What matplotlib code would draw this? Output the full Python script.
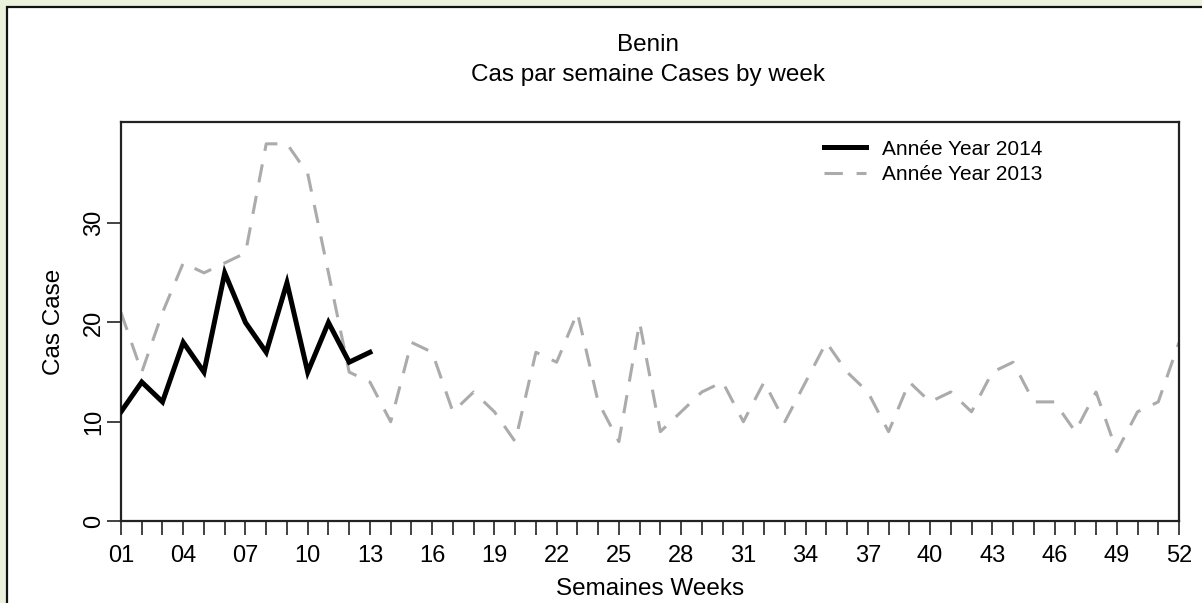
import matplotlib
matplotlib.use("Agg")
import matplotlib.pyplot as plt
from matplotlib.patches import Rectangle

plt.rcParams['font.family'] = ['Liberation Sans', 'DejaVu Sans']

weeks_2014 = list(range(1, 14))
cases_2014 = [11, 14, 12, 18, 15, 25, 20, 17, 24, 15, 20, 16, 17]

weeks_2013 = list(range(1, 53))
cases_2013 = [21, 15, 21, 26, 25, 26, 27, 38, 38, 35,
              25, 15, 14, 10, 18, 17, 11, 13, 11, 8,
              17, 16, 21, 12, 8, 20, 9, 11, 13, 14,
              10, 14, 10, 14, 18, 15, 13, 9, 14, 12,
              13, 11, 15, 16, 12, 12, 9, 13, 7, 11,
              12, 18]

xtick_pos = list(range(1, 53, 3))
ytick_pos = [0, 10, 20, 30]

fig = plt.figure(figsize=(12.02, 6.03), dpi=100)
fig.patch.set_facecolor('#EAF1DD')
fig.patches.append(Rectangle((7 / 1202, -0.05), 1.1, 1 - 7 / 603 + 0.05,
                             transform=fig.transFigure, facecolor='white',
                             edgecolor='#111111', linewidth=1.6, zorder=-5))

ax = fig.add_axes([121 / 1202, 1 - 521 / 603, (1179 - 121) / 1202, (521 - 122) / 603])
ax.set_zorder(2)
ax.set_facecolor('white')

ax.plot(weeks_2013, cases_2013, color='#ABABAB', linewidth=2.2,
        dashes=(6, 4.5), label=u'Ann\u00e9e Year 2013', zorder=2)
ax.plot(weeks_2014, cases_2014, color='black', linewidth=3.6,
        solid_joinstyle='miter', label=u'Ann\u00e9e Year 2014', zorder=3)

ax.set_xlim(1, 52)
ax.set_ylim(0, 40.2)
ax.set_xticks(range(1, 53))
ax.set_xticklabels([("%02d" % w) if w in xtick_pos else "" for w in range(1, 53)])
ax.set_yticks(ytick_pos)
ax.set_yticklabels([str(v) for v in ytick_pos], rotation=90, va='center')
ax.tick_params(axis='both', direction='out', length=10, width=1.2,
               color='#222222', labelsize=17)
ax.tick_params(axis='x', pad=7.5)
ax.tick_params(axis='y', pad=1.5)
for s in ax.spines.values():
    s.set_linewidth(1.6)
    s.set_color('#222222')

ax.set_xlabel('Semaines Weeks', fontsize=17.5, va='center')
ax.xaxis.set_label_coords(0.5, (521 - 589) / 399)
ax.set_ylabel('Cas Case', fontsize=17.5, va='center')
ax.yaxis.set_label_coords((54 - 121) / 1058, 0.5)

fig.text(648 / 1202, 1 - 45 / 603, 'Benin', ha='center', va='center', fontsize=17.5)
fig.text(648 / 1202, 1 - 75 / 603, 'Cas par semaine Cases by week',
         ha='center', va='center', fontsize=17.5)

h, l = ax.get_legend_handles_labels()
leg = ax.legend(h[::-1], l[::-1], loc='upper left', bbox_to_anchor=(0.647, 1.003),
                frameon=False, fontsize=15, handlelength=2.0,
                handletextpad=0.75, labelspacing=0.3)

fig.savefig('out.png', dpi=100, facecolor=fig.get_facecolor())
